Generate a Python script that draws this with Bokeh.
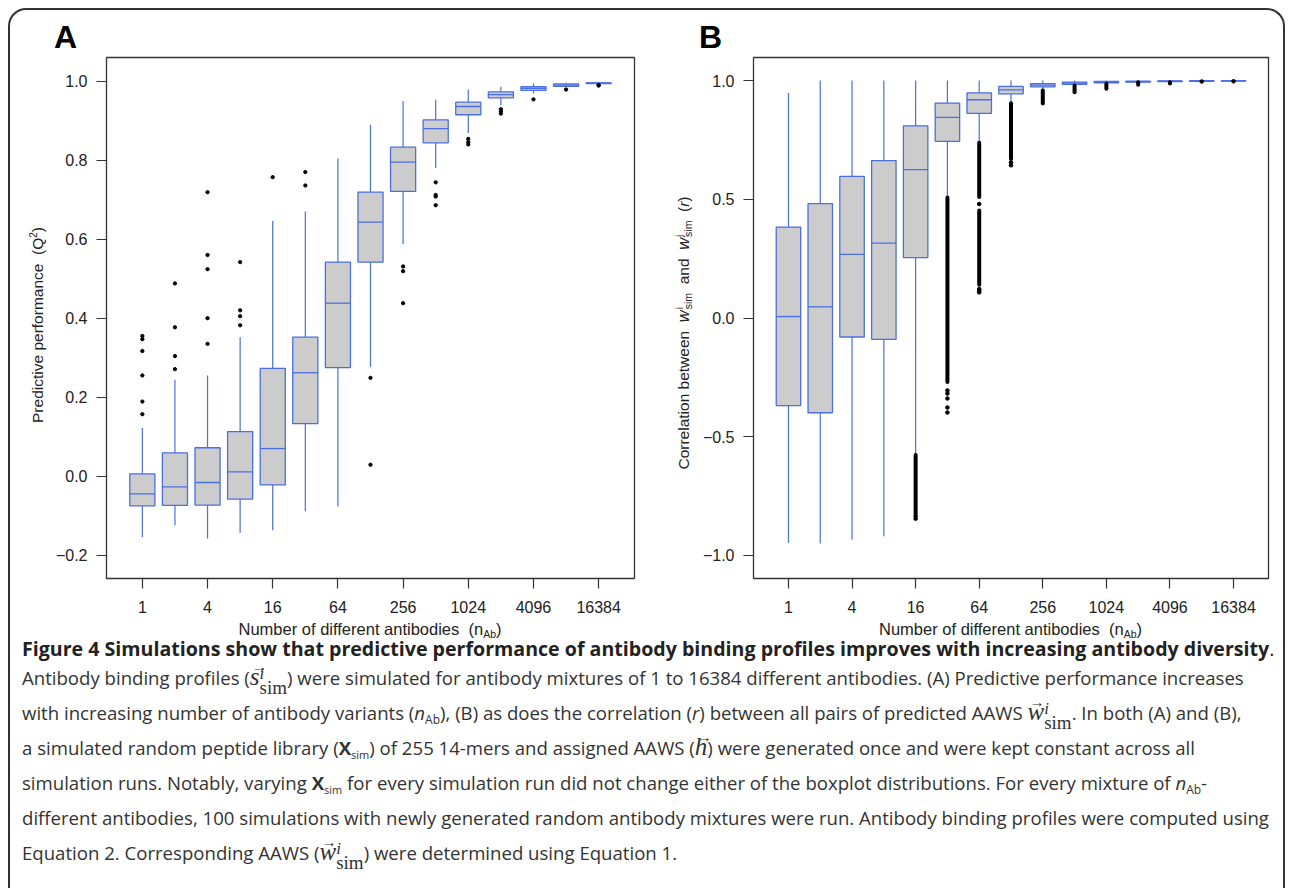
from bokeh.plotting import figure
from bokeh.models import Range1d, Div, FixedTicker
from bokeh.layouts import column, row
from bokeh.embed import file_html
from bokeh.resources import INLINE

# ---------------- data ----------------
n_ab = [1, 2, 4, 8, 16, 32, 64, 128, 256, 512, 1024, 2048, 4096, 8192, 16384]
pos = list(range(1, 16))
xtick_pos = [1, 3, 5, 7, 9, 11, 13, 15]
xtick_labels = ["1", "4", "16", "64", "256", "1024", "4096", "16384"]

# Panel A: predictive performance (Q2)
a_q1 = [-0.075, -0.074, -0.073, -0.058, -0.022, 0.133, 0.275, 0.542, 0.721, 0.844, 0.915, 0.958, 0.977, 0.987, 0.994]
a_med = [-0.045, -0.027, -0.016, 0.011, 0.070, 0.262, 0.438, 0.643, 0.795, 0.880, 0.936, 0.966, 0.982, 0.990, 0.995]
a_q3 = [0.006, 0.059, 0.072, 0.113, 0.273, 0.352, 0.542, 0.719, 0.833, 0.902, 0.947, 0.973, 0.986, 0.993, 0.996]
a_wlo = [-0.154, -0.124, -0.158, -0.143, -0.137, -0.089, -0.077, 0.277, 0.587, 0.780, 0.869, 0.939, 0.969, 0.985, 0.993]
a_whi = [0.122, 0.244, 0.255, 0.352, 0.646, 0.670, 0.804, 0.890, 0.950, 0.953, 0.979, 0.986, 0.994, 0.996, 0.998]
a_out_idx = [1, 1, 1, 1, 1, 1, 2, 2, 2, 2, 3, 3, 3, 3, 3, 4, 4, 4, 4, 5, 6, 6, 8, 8,
             9, 9, 9, 10, 10, 10, 10, 11, 11, 11, 12, 12, 12, 13, 14, 15, 15]
a_out_val = [0.355, 0.347, 0.317, 0.255, 0.189, 0.157, 0.488, 0.377, 0.304, 0.271,
             0.719, 0.560, 0.524, 0.400, 0.335, 0.542, 0.420, 0.405, 0.382, 0.757,
             0.770, 0.736, 0.249, 0.029, 0.531, 0.519, 0.438, 0.744, 0.712, 0.708,
             0.686, 0.854, 0.846, 0.840, 0.929, 0.924, 0.918, 0.954, 0.979, 0.990, 0.989]
a_yticks = [-0.2, 0.0, 0.2, 0.4, 0.6, 0.8, 1.0]
a_ylabels = ["\u22120.2", "0.0", "0.2", "0.4", "0.6", "0.8", "1.0"]

# Panel B: correlation between predicted AAWS (r)
b_q1 = [-0.369, -0.399, -0.080, -0.090, 0.2545, 0.744, 0.862, 0.944, 0.973, 0.984, 0.990, 0.993, 0.995, 0.997, 0.998]
b_med = [0.006, 0.047, 0.268, 0.315, 0.625, 0.845, 0.919, 0.961, 0.981, 0.989, 0.993, 0.995, 0.997, 0.998, 0.999]
b_q3 = [0.383, 0.482, 0.596, 0.663, 0.809, 0.905, 0.948, 0.975, 0.987, 0.993, 0.996, 0.997, 0.998, 0.999, 0.9995]
b_wlo = [-0.946, -0.950, -0.934, -0.919, -0.577, 0.507, 0.738, 0.904, 0.959, 0.979, 0.986, 0.993, 0.994, 0.996, 0.997]
b_whi = [0.947, 1.0, 1.0, 1.0, 1.0, 1.0, 1.0, 1.0, 1.0, 1.0, 1.0, 1.0, 1.0, 1.0, 1.0]
# dense runs of outliers (thousands of points, drawn as runs lo..hi)
b_run_idx = [5, 6, 7, 7, 8, 9, 10, 11, 12, 13]
b_run_lo = [-0.825, -0.270, 0.510, 0.140, 0.670, 0.903, 0.951, 0.965, 0.982, 0.988]
b_run_hi = [-0.577, 0.507, 0.738, 0.453, 0.904, 0.958, 0.979, 0.986, 0.993, 0.993]
# isolated outliers
b_out_idx = [5, 5, 6, 6, 6, 6, 6, 7, 7, 7, 7, 8, 8, 14, 15]
b_out_val = [-0.835, -0.845, -0.305, -0.318, -0.339, -0.377, -0.398, 0.480, 0.122, 0.115, 0.108, 0.655, 0.643, 0.996, 0.997]
b_yticks = [-1.0, -0.5, 0.0, 0.5, 1.0]
b_ylabels = ["\u22121.0", "\u22120.5", "0.0", "0.5", "1.0"]

# ---------------- style ----------------
BLUE = "#4a6fe3"
GRAY = "#cccccc"
FRAME = "#333333"
SANS = "Liberation Sans"
BOXW = 0.77
FH = 521
TOP = 7
BOT = 42


def panel(q1, med, q3, wlo, whi, yr, yticks, ylabels, fw, mbl, mbr):
    p = figure(frame_width=fw, frame_height=FH, min_border_left=mbl, min_border_right=mbr,
               min_border_top=TOP, min_border_bottom=BOT,
               x_range=Range1d(-0.1, 16.1), y_range=Range1d(*yr),
               output_backend="svg", toolbar_location=None, tools="")
    p.grid.visible = False
    p.outline_line_color = FRAME
    p.outline_line_width = 1.3
    p.background_fill_color = "white"
    p.border_fill_color = "white"
    for ax in (p.xaxis[0], p.yaxis[0]):
        ax.axis_line_color = None
        ax.major_tick_in = 0
        ax.major_tick_out = 10
        ax.minor_tick_out = 0
        ax.minor_tick_in = 0
        ax.major_tick_line_color = FRAME
        ax.major_tick_line_width = 1.2
        ax.major_label_text_font = SANS
        ax.major_label_text_font_size = "16px"
        ax.major_label_text_color = "#222222"
    p.xaxis.ticker = FixedTicker(ticks=xtick_pos)
    p.xaxis.major_label_overrides = {t: l for t, l in zip(xtick_pos, xtick_labels)}
    p.xaxis.major_label_standoff = 12
    p.yaxis.ticker = FixedTicker(ticks=yticks)
    p.yaxis.major_label_overrides = {t: l for t, l in zip(yticks, ylabels)}
    p.yaxis.major_label_standoff = 9

    p.segment(x0=pos, y0=q3, x1=pos, y1=whi, line_color=BLUE, line_width=1.2)
    p.segment(x0=pos, y0=q1, x1=pos, y1=wlo, line_color=BLUE, line_width=1.2)
    p.vbar(x=pos, width=BOXW, bottom=q1, top=q3, fill_color=GRAY, line_color=BLUE, line_width=1.3)
    p.segment(x0=[i - BOXW / 2 for i in pos], y0=med, x1=[i + BOXW / 2 for i in pos], y1=med,
              line_color=BLUE, line_width=1.3)
    return p


# horizontal budget (content starts at page x=10)
YA_W, FA_L, FA_W, FA_R = 40, 56, 528, 14
YB_W, FB_L, FB_W, FB_R = 45, 60, 515, 15

pA = panel(a_q1, a_med, a_q3, a_wlo, a_whi, (-0.259, 1.060), a_yticks, a_ylabels, FA_W, FA_L, FA_R)
pA.scatter(x=a_out_idx, y=a_out_val, size=3.3, color="black")

pB = panel(b_q1, b_med, b_q3, b_wlo, b_whi, (-1.097, 1.097), b_yticks, b_ylabels, FB_W, FB_L, FB_R)
pB.segment(x0=b_run_idx, y0=b_run_lo, x1=b_run_idx, y1=b_run_hi, line_color="black",
           line_width=4, line_cap="round")
pB.scatter(x=b_out_idx, y=b_out_val, size=3.6, color="black")

FIG_H = TOP + FH + BOT
TXT = "font-family:'Liberation Sans',Arial,sans-serif;color:#222;"


def abs_box(w, h, inner):
    return f'<div style="position:relative;width:{w}px;height:{h}px;">{inner}</div>'


def mkdiv(w, h, html):
    return Div(width=w, height=h, text=html, margin=0)


# panel letters
letters = mkdiv(1273, 40, abs_box(1273, 40,
    f'<span style="position:absolute;left:44px;top:11px;{TXT}color:#000;font-weight:bold;font-size:32px;line-height:32px;">A</span>'
    f'<span style="position:absolute;left:689px;top:11px;{TXT}color:#000;font-weight:bold;font-size:32px;line-height:32px;">B</span>'))

# y axis titles (rotated)
ROT = "position:absolute;transform:translate(-50%,-50%) rotate(-90deg);white-space:nowrap;font-size:15.5px;line-height:18px;"
ytitle_a_html = 'Predictive performance&nbsp; (Q<span style="font-size:10px;vertical-align:6px;">2</span>)'


def wsym(sup):
    return ('<i style="font-size:16.5px;">w</i><span style="display:inline-block;vertical-align:-3px;'
            'font-size:10.5px;line-height:9px;text-align:left;margin-left:1px;">'
            f'<span style="display:block;">{sup}</span><span style="display:block;">sim</span></span>')


ytitle_b_html = f'Correlation between&nbsp; {wsym("i")} &nbsp;and&nbsp; {wsym("j")}&nbsp; (<i>r</i>)'
CY_A = 325 - 50
CY_B = 333 - 50
yA = mkdiv(YA_W, FIG_H + 20, abs_box(YA_W, FIG_H + 20,
           f'<div style="{ROT}{TXT}left:26px;top:{CY_A}px;">{ytitle_a_html}</div>'))
yB = mkdiv(YB_W, FIG_H + 20, abs_box(YB_W, FIG_H + 20,
           f'<div style="{ROT}{TXT}left:35px;top:{CY_B}px;">{ytitle_b_html}</div>'))

# x axis titles
xtitle_html = 'Number of different antibodies&nbsp; (n<span style="font-size:10.5px;vertical-align:-3px;">Ab</span>)'
wA = FA_L + FA_W + FA_R
wB = FB_L + FB_W + FB_R
xA = mkdiv(wA, 20, abs_box(wA, 20,
           f'<span style="position:absolute;left:{FA_L + FA_W / 2.0}px;top:1px;transform:translateX(-50%);white-space:nowrap;{TXT}font-size:16.5px;line-height:16px;">{xtitle_html}</span>'))
xB = mkdiv(wB, 20, abs_box(wB, 20,
           f'<span style="position:absolute;left:{FB_L + FB_W / 2.0}px;top:1px;transform:translateX(-50%);white-space:nowrap;{TXT}font-size:16.5px;line-height:16px;">{xtitle_html}</span>'))

# ---------------- caption ----------------
SERIF = "'Liberation Serif','DejaVu Serif',serif"


def vec(letter, sup, sub):
    base = (f'<span style="position:relative;display:inline-block;font-family:{SERIF};'
            f'font-style:italic;font-size:25px;line-height:25px;">{letter}'
            f'<span style="position:absolute;left:2px;top:-9px;font-size:15px;font-style:normal;">&#8594;</span></span>')
    if not sup and not sub:
        return base
    stack = (f'<span style="display:inline-block;vertical-align:-9px;font-family:{SERIF};text-align:left;">'
             f'<span style="display:block;font-size:17px;line-height:13px;font-style:italic;">{sup}</span>'
             f'<span style="display:block;font-size:19px;line-height:16px;">{sub}</span></span>')
    return base + stack


S_VEC = vec("s", "i", "sim")
W_VEC = vec("w", "i", "sim")
H_VEC = vec("h", "", "")
NAB = '<i>n</i><span style="font-size:12px;vertical-align:-4px;">Ab</span>'
XSIM = '<b>X</b><span style="font-size:11px;vertical-align:-4px;">sim</span>'

caption_title = ("<b>Figure 4 Simulations show that predictive performance of antibody binding "
                 "profiles improves with increasing antibody diversity</b>.")
caption_lines = [
    f"Antibody binding profiles ({S_VEC}) were simulated for antibody mixtures of 1 to 16384 different antibodies. (A) Predictive performance increases",
    f"with increasing number of antibody variants ({NAB}), (B) as does the correlation (<i>r</i>) between all pairs of predicted AAWS {W_VEC}. In both (A) and (B),",
    f"a simulated random peptide library ({XSIM}) of 255 14-mers and assigned AAWS ({H_VEC}) were generated once and were kept constant across all",
    f"simulation runs. Notably, varying {XSIM} for every simulation run did not change either of the boxplot distributions. For every mixture of {NAB}-",
    "different antibodies, 100 simulations with newly generated random antibody mixtures were run. Antibody binding profiles were computed using",
    f"Equation 2. Corresponding AAWS ({W_VEC}) were determined using Equation 1.",
]

html = ('<div style="font-family:\'Open Sans\',sans-serif;color:#333;padding-left:12px;">'
        f'<div style="height:20px;line-height:18px;font-size:19.6px;color:#222;white-space:nowrap;">{caption_title}</div>')
for ln in caption_lines:
    html += f'<div style="height:35px;line-height:35px;font-size:18.6px;white-space:nowrap;">{ln}</div>'
html += '</div>'

cap = mkdiv(1273, 248, html)

top = row(yA, column(pA, xA), yB, column(pB, xB))
layout = column(letters, top, cap, margin=(8, 0, 0, 8),
                styles={"border-top": "2px solid #333", "border-left": "2px solid #333",
                        "border-right": "2px solid #333", "border-radius": "18px 18px 0 0",
                        "background-color": "white"})

open("out.html", "w").write(file_html(layout, INLINE))
